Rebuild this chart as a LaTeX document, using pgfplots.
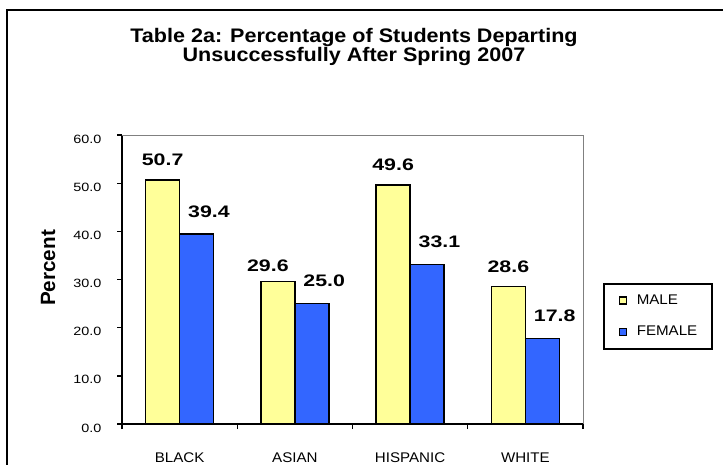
\documentclass[border=0pt]{standalone}
\usepackage{fontspec}
\setmainfont{Liberation Sans}
\newfontfamily\titlefont[FakeStretch=1.1]{Liberation Sans}
\newfontfamily\valfont[FakeStretch=1.28]{Liberation Sans}
\newfontfamily\tickfont[FakeStretch=1.2]{Liberation Sans}
\newfontfamily\legfont[FakeStretch=1.08]{Liberation Sans}
\usepackage{pgfplots}
\pgfplotsset{compat=1.18}
\definecolor{maleyellow}{HTML}{FFFF99}
\definecolor{femaleblue}{HTML}{3366FF}

\begin{document}
\begin{tikzpicture}
% 1px = 0.75pt, page 723x464 px
\path[use as bounding box] (0,0) rectangle (542.25pt,348pt);
\draw[line width=1.5pt] (5.25pt,-30pt) -- (5.25pt,340.5pt) -- (580pt,340.5pt);
\node[anchor=base, font=\titlefont\bfseries\fontsize{14.7}{16}\selectfont]
  at (265.5pt,315.75pt) {Table 2a: Percentage of Students Departing};
\node[anchor=base, font=\titlefont\bfseries\fontsize{14.7}{16}\selectfont]
  at (265.5pt,301.5pt) {Unsuccessfully After Spring 2007};

\begin{axis}[
  at={(91.5pt,30pt)}, anchor=south west,
  scale only axis, width=345.75pt, height=216.75pt,
  xmin=-0.5, xmax=3.5, ymin=0, ymax=60,
  axis lines=left, axis line style={-, line width=1.5pt, black},
  clip=false,
  tick align=outside,
  major tick length=3.75pt,
  tick style={black, line width=1pt},
  xtick={-0.5,0.5,1.5,2.5,3.5}, xticklabels={},
  extra x ticks={0,1,2,3},
  extra x tick labels={BLACK,ASIAN,HISPANIC,WHITE},
  extra x tick style={major tick length=0pt,
    xticklabel style={anchor=base, inner sep=0pt, yshift=-28.6pt,
      font=\legfont\fontsize{10.5}{12}\selectfont}},
  ytick={0,10,...,60},
  yticklabel style={/pgf/number format/fixed, /pgf/number format/fixed zerofill,
    /pgf/number format/precision=1, /pgf/number format/assume math mode=true,
    anchor=east, inner sep=0pt, xshift=-11.5pt, yshift=-3pt,
    font=\tickfont\fontsize{9}{10}\selectfont},
  ylabel={Percent},
  ylabel style={at={(axis description cs:-0.1605,0.54)}, anchor=center,
    font=\bfseries\fontsize{15.5}{17}\selectfont},
  nodes near coords={\pgfmathprintnumber[fixed,fixed zerofill,precision=1,assume math mode=true]{\pgfplotspointmeta}},
  every node near coord/.append style={anchor=south, inner sep=0pt,
    font=\valfont\bfseries\fontsize{12.5}{14}\selectfont},
  legend cell align=left,
  legend style={at={(axis description cs:1.0434,0.4879)}, anchor=north west,
    draw=black, line width=1.5pt, inner xsep=11pt, inner ysep=8pt,
    row sep=15pt, column sep=7.5pt,
    nodes={inner sep=0pt, font=\legfont\fontsize{10.5}{12}\selectfont}},
  legend image code/.code={\draw[#1, line width=0.9pt] (-2.6pt,-2.6pt) rectangle (2.6pt,2.6pt);},
]
\addplot[ybar, bar width=0.295, bar shift=-0.1475, fill=maleyellow, draw=black,
  line width=1.1pt, every node near coord/.append style={yshift=10pt, xshift=-12.75pt},
  coordinate style/.condition={\coordindex==1}{xshift=-7.5pt, yshift=-3.5pt}]
  coordinates {(0,50.7) (1,29.6) (2,49.6) (3,28.6)};
\addlegendentry{MALE}
\addplot[ybar, bar width=0.295, bar shift=0.1475, fill=femaleblue, draw=black,
  line width=1.1pt, every node near coord/.append style={yshift=12pt, xshift=22pt}]
  coordinates {(0,39.4) (1,25.0) (2,33.1) (3,17.8)};
\addlegendentry{FEMALE}
\draw[gray, line width=0.75pt] (rel axis cs:0,1) -- (rel axis cs:1,1) -- (rel axis cs:1,0);
\end{axis}
\end{tikzpicture}
\end{document}
